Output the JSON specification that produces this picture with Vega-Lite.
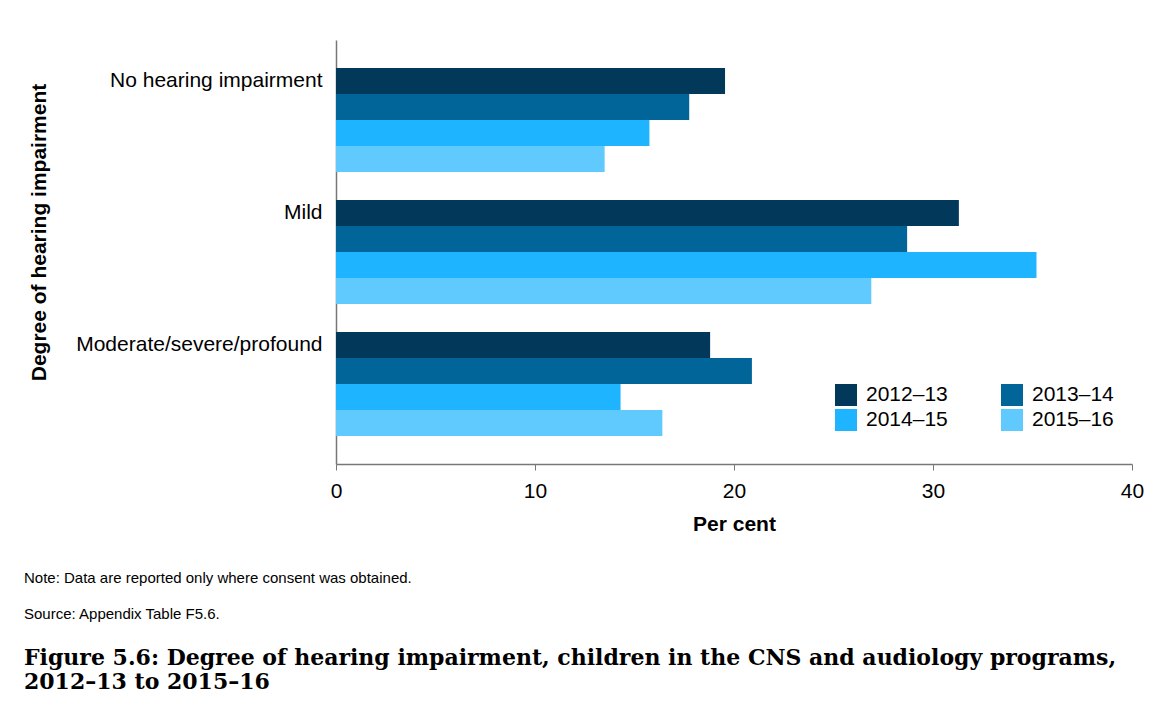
{
  "$schema": "https://vega.github.io/schema/vega-lite/v6.json",
  "autosize": "none",
  "width": 796,
  "height": 424,
  "padding": {"left": 336, "top": 40, "right": 36, "bottom": 238},
  "background": "white",
  "data": {
    "values": [
      {"category": "No hearing impairment", "year": "2012–13", "value": 19.55},
      {"category": "No hearing impairment", "year": "2013–14", "value": 17.75},
      {"category": "No hearing impairment", "year": "2014–15", "value": 15.75},
      {"category": "No hearing impairment", "year": "2015–16", "value": 13.5},
      {"category": "Mild", "year": "2012–13", "value": 31.3},
      {"category": "Mild", "year": "2013–14", "value": 28.7},
      {"category": "Mild", "year": "2014–15", "value": 35.2},
      {"category": "Mild", "year": "2015–16", "value": 26.9},
      {"category": "Moderate/severe/profound", "year": "2012–13", "value": 18.8},
      {"category": "Moderate/severe/profound", "year": "2013–14", "value": 20.9},
      {"category": "Moderate/severe/profound", "year": "2014–15", "value": 14.3},
      {"category": "Moderate/severe/profound", "year": "2015–16", "value": 16.4}
    ]
  },
  "title": {
    "text": ["Note: Data are reported only where consent was obtained.", "Source: Appendix Table F5.6."],
    "subtitle": ["Figure 5.6: Degree of hearing impairment, children in the CNS and audiology programs,", "2012–13 to 2015–16"],
    "orient": "bottom",
    "anchor": "start",
    "frame": "group",
    "dx": -312,
    "offset": 37,
    "font": "Liberation Sans",
    "fontSize": 15,
    "fontWeight": "normal",
    "color": "black",
    "lineHeight": 36,
    "subtitleFont": "DejaVu Serif",
    "subtitleFontSize": 22,
    "subtitleFontWeight": "bold",
    "subtitleColor": "black",
    "subtitleLineHeight": 24,
    "subtitlePadding": 26
  },
  "mark": {"type": "bar"},
  "encoding": {
    "y": {
      "field": "category",
      "type": "nominal",
      "sort": ["No hearing impairment", "Mild", "Moderate/severe/profound"],
      "scale": {"paddingInner": 0.212, "paddingOuter": 0.212},
      "axis": {
        "title": "Degree of hearing impairment",
        "ticks": false,
        "tickSize": 0,
        "labelPadding": 14,
        "labelOffset": -39,
        "labelFont": "Liberation Sans",
        "labelFontSize": 21,
        "labelColor": "black",
        "labelLimit": 400,
        "domainColor": "#777777",
        "domainWidth": 1.5,
        "titleFont": "Liberation Sans",
        "titleFontSize": 21,
        "titleFontWeight": "bold",
        "titleColor": "black",
        "titleX": -297,
        "titleY": 192,
        "titleAlign": "center",
        "titleBaseline": "middle"
      }
    },
    "yOffset": {
      "field": "year",
      "type": "nominal",
      "sort": ["2012–13", "2013–14", "2014–15", "2015–16"],
      "scale": {"paddingInner": 0, "paddingOuter": 0}
    },
    "x": {
      "field": "value",
      "type": "quantitative",
      "scale": {"domain": [0, 40]},
      "axis": {
        "values": [0, 10, 20, 30, 40],
        "grid": false,
        "title": "Per cent",
        "tickSize": 6,
        "tickColor": "#777777",
        "domainColor": "#777777",
        "domainWidth": 1.5,
        "labelFlush": false,
        "labelPadding": 10,
        "labelFont": "Liberation Sans",
        "labelFontSize": 21,
        "labelColor": "black",
        "titleFont": "Liberation Sans",
        "titleFontSize": 21,
        "titleFontWeight": "bold",
        "titleColor": "black",
        "titlePadding": 12
      }
    },
    "color": {
      "field": "year",
      "type": "nominal",
      "scale": {
        "domain": ["2012–13", "2013–14", "2014–15", "2015–16"],
        "range": ["#02395A", "#02659A", "#1FB4FF", "#60CAFF"]
      },
      "legend": {
        "title": null,
        "orient": "none",
        "legendX": 499,
        "legendY": 344,
        "direction": "horizontal",
        "columns": 2,
        "symbolType": "square",
        "symbolSize": 484,
        "symbolStrokeWidth": 0,
        "symbolOpacity": 1,
        "labelFont": "Liberation Sans",
        "labelFontSize": 21,
        "labelColor": "black",
        "labelOffset": 9,
        "columnPadding": 53,
        "rowPadding": 3
      }
    }
  },
  "config": {"view": {"stroke": null}}
}
